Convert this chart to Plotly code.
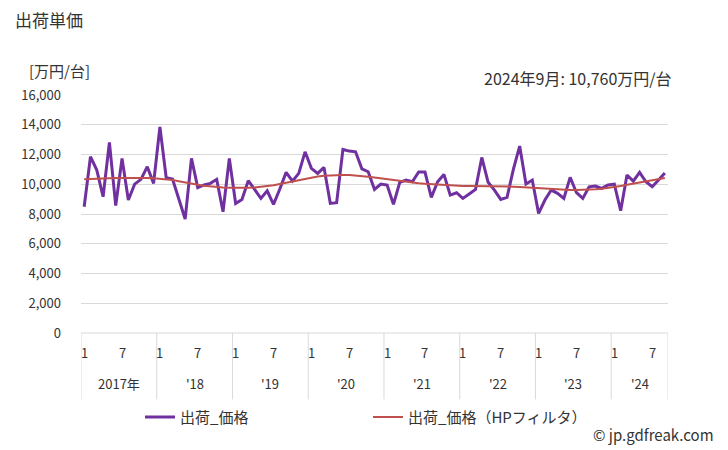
import plotly.graph_objects as go

years = ["2017年", "'18", "'19", "'20", "'21", "'22", "'23", "'24"]
month_ticks = ["1", "7"]

price_2017 = [8490, 11850, 10950, 9160, 12810, 8560, 11740, 8940, 10010, 10330, 11180, 10060]
price_2018 = [13860, 10440, 10350, 8940, 7660, 11740, 9770, 9950, 10060, 10330, 8150, 11740]
price_2019 = [8710, 8980, 10240, 9650, 9050, 9560, 8650, 9680, 10800, 10210, 10730, 12180]
price_2020 = [11070, 10730, 11130, 8710, 8760, 12340, 12230, 12180, 11040, 10840, 9650, 10010]
price_2021 = [9950, 8650, 10130, 10280, 10170, 10820, 10820, 9120, 10170, 10660, 9270, 9430]
price_2022 = [9050, 9340, 9650, 11800, 10130, 9610, 8980, 9120, 11000, 12570, 10010, 10280]
price_2023 = [8040, 8940, 9610, 9390, 9050, 10460, 9430, 9050, 9830, 9880, 9720, 9950]
price_2024 = [10010, 8220, 10620, 10210, 10800, 10170, 9830, 10280, 10760]

hp_2017 = [10330, 10360, 10380, 10400, 10410, 10420, 10430, 10440, 10440, 10430, 10420, 10400]
hp_2018 = [10370, 10330, 10280, 10200, 10110, 10030, 9960, 9900, 9850, 9810, 9780, 9760]
hp_2019 = [9750, 9750, 9760, 9780, 9820, 9870, 9940, 10020, 10110, 10200, 10300, 10390]
hp_2020 = [10460, 10520, 10570, 10600, 10620, 10630, 10620, 10600, 10560, 10510, 10450, 10390]
hp_2021 = [10330, 10270, 10210, 10160, 10110, 10070, 10030, 10000, 9970, 9950, 9930, 9910]
hp_2022 = [9890, 9880, 9880, 9880, 9880, 9880, 9870, 9860, 9840, 9810, 9780, 9750]
hp_2023 = [9720, 9690, 9660, 9640, 9620, 9610, 9610, 9610, 9630, 9660, 9700, 9750]
hp_2024 = [9810, 9880, 9960, 10040, 10120, 10200, 10280, 10350, 10420]

price = price_2017 + price_2018 + price_2019 + price_2020 + price_2021 + price_2022 + price_2023 + price_2024
hp = hp_2017 + hp_2018 + hp_2019 + hp_2020 + hp_2021 + hp_2022 + hp_2023 + hp_2024
n = len(price)
x = list(range(n))

FONT = "Noto Sans CJK JP"
TXT = "#333333"
W, H = 728, 450
L, R, T, B = 81, 60, 95, 116.5
PW, PH = W - L - R, H - T - B


def px_to_paper(px, py):
    return (px - L) / PW, (H - B - py) / PH


fig = go.Figure()
fig.add_trace(go.Scatter(x=x, y=price, mode="lines", name="出荷_価格",
                         line=dict(color="#7030A0", width=3)))
fig.add_trace(go.Scatter(x=x, y=hp, mode="lines", name="出荷_価格（HPフィルタ）",
                         line=dict(color="#C0504D", width=2)))

tickvals, ticktext = [], []
for yi in range(len(years)):
    for m, lab in zip([0, 6], month_ticks):
        idx = yi * 12 + m
        if idx < n:
            tickvals.append(idx)
            ticktext.append(lab)

shapes = []
annotations = []
_, y_div_end = px_to_paper(0, 400)
for yi in range(len(years) + 1):
    xb = min(yi * 12, n) - 0.5
    shapes.append(dict(type="line", xref="x", yref="paper", x0=xb, x1=xb, y0=0, y1=y_div_end,
                       line=dict(color="#d9d9d9", width=1)))
shapes.append(dict(type="line", xref="paper", yref="paper", x0=0, x1=1, y0=0, y1=0,
                   line=dict(color="#d9d9d9", width=1)))

_, y_year = px_to_paper(0, 384)
_, y_month = px_to_paper(0, 353)
for yi, lab in enumerate(years):
    start = yi * 12
    end = min(start + 12, n)
    annotations.append(dict(x=(start + end - 1) / 2, y=y_year, xref="x", yref="paper",
                            text=lab, showarrow=False, font=dict(size=13, color=TXT, family=FONT),
                            yanchor="middle"))
for tv, tt in zip(tickvals, ticktext):
    annotations.append(dict(x=tv, y=y_month, xref="x", yref="paper", text=tt, showarrow=False,
                            font=dict(size=13, color=TXT, family=FONT), yanchor="middle",
                            xanchor="center"))


def txt(px, py, text, size, anchor):
    xx, yy = px_to_paper(px, py)
    return dict(x=xx, y=yy, xref="paper", yref="paper", xanchor=anchor, yanchor="middle",
                text=text, showarrow=False, font=dict(size=size, color=TXT, family=FONT))


annotations += [
    txt(13, 19, "出荷単価", 17, "left"),
    txt(27, 70, "[万円/台]", 15, "left"),
    txt(674, 78, "2024年9月: 10,760万円/台", 16, "right"),
    txt(716, 435, "© jp.gdfreak.com", 15, "right"),
]

lx, ly = px_to_paper(140, 418)
fig.update_layout(
    width=W, height=H,
    margin=dict(l=L, r=R, t=T, b=B),
    paper_bgcolor="white", plot_bgcolor="white",
    font=dict(family=FONT, color=TXT, size=12),
    showlegend=True,
    legend=dict(orientation="h", x=lx, y=ly, xanchor="left", yanchor="middle",
                font=dict(size=15, color=TXT, family=FONT),
                entrywidth=183, entrywidthmode="pixels",
                bgcolor="rgba(0,0,0,0)"),
    xaxis=dict(range=[-0.5, n - 0.5], showticklabels=False, showgrid=False, zeroline=False,
               ticks="", showline=False, fixedrange=True),
    yaxis=dict(range=[0, 16000], dtick=2000, tickformat=",d", showgrid=True,
               gridcolor="#d9d9d9", gridwidth=1, zeroline=False, showline=False,
               ticks="", tickfont=dict(size=13, color=TXT, family=FONT), ticklabelstandoff=19,
               fixedrange=True),
    shapes=shapes,
    annotations=annotations,
)

fig.write_html("out.html", config={"displayModeBar": False},
               post_script="document.body.style.margin='0px';document.body.style.overflow='hidden';")
